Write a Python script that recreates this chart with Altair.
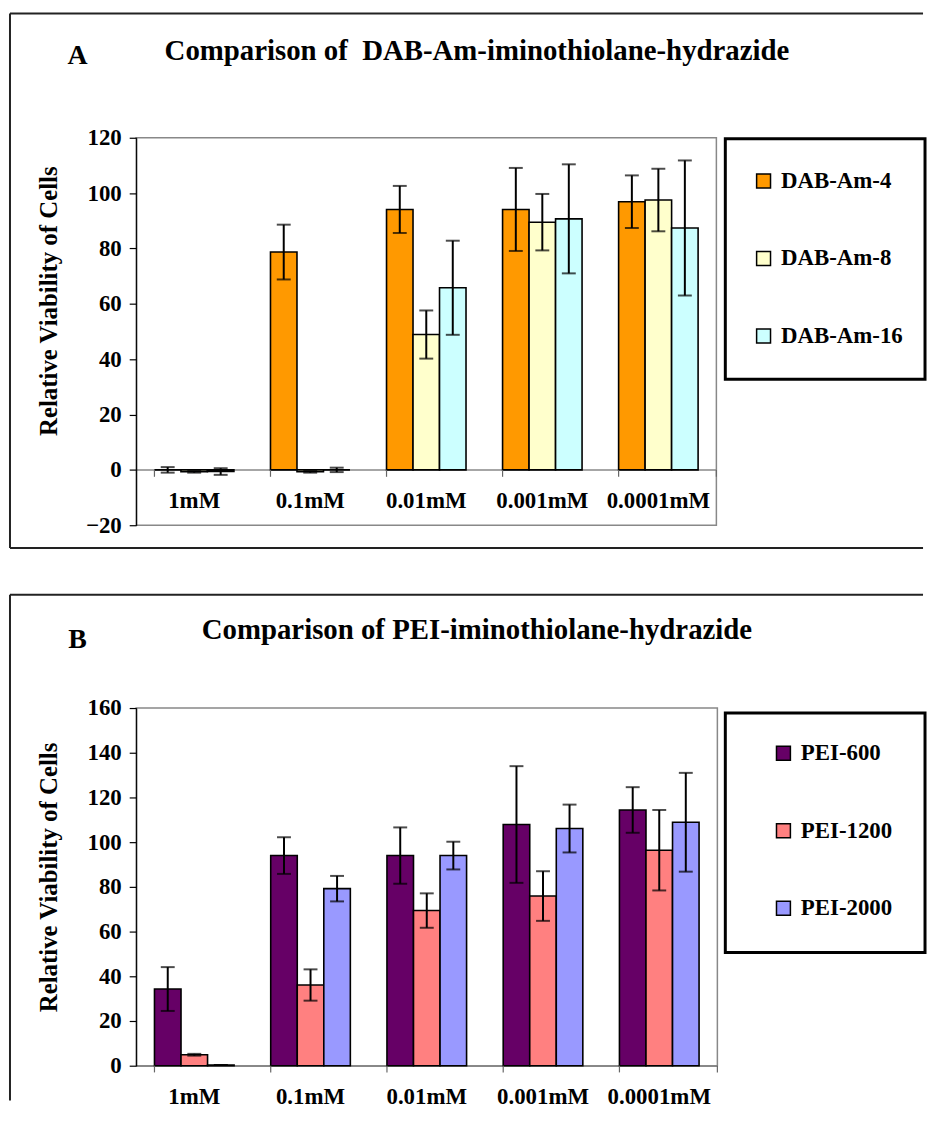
import altair as alt
import pandas as pd

FONT = "Liberation Serif"

conc = ["1mM", "0.1mM", "0.01mM", "0.001mM", "0.0001mM"]

dab_series = ["DAB-Am-4", "DAB-Am-8", "DAB-Am-16"]
dab_colors = ["#FF9900", "#FFFFCC", "#CCFFFF"]
dab4 = [0.0, 78.7, 94.1, 94.1, 96.9]
dab4_err = [1.0, 9.9, 8.5, 15.0, 9.5]
dab8 = [-0.7, -0.7, 48.9, 89.5, 97.5]
dab8_err = [0.3, 0.3, 8.7, 10.2, 11.3]
dab16 = [-0.6, 0.0, 65.8, 90.7, 87.4]
dab16_err = [1.2, 0.8, 17.0, 19.7, 24.4]

pei_series = ["PEI-600", "PEI-1200", "PEI-2000"]
pei_colors = ["#660066", "#FF8080", "#9999FF"]
pei600 = [34.3, 94.0, 94.0, 107.9, 114.4]
pei600_err = [9.8, 8.2, 12.6, 26.1, 10.2]
pei1200 = [4.9, 36.1, 69.4, 75.9, 96.4]
pei1200_err = [0.4, 7.0, 7.7, 11.1, 18.0]
pei2000 = [0.3, 79.2, 94.0, 106.1, 108.9]
pei2000_err = [0.0, 5.7, 6.2, 10.7, 22.1]

ytitle = "Relative Viability of Cells"
titleA = "Comparison of\u00a0 DAB-Am-iminothiolane-hydrazide"
titleB = "Comparison of PEI-iminothiolane-hydrazide"


def make_df(series, values, errors):
    rows = []
    for s, vals, errs in zip(series, values, errors):
        for c, v, e in zip(conc, vals, errs):
            rows.append({"conc": c, "series": s, "value": v, "lo": v - e, "hi": v + e})
    return pd.DataFrame(rows)


def panel(df, series, colors, domain, ticks, W, H, xoffset, tick_len, letter, title,
          frame, legend_box, legend_xy, title_xy, letter_xy, ytitle_xy):
    xaxis = alt.Axis(title=None, labelAngle=0, ticks=False, domainColor="#888888",
                     domainWidth=1.5, labelFont=FONT, labelFontSize=23,
                     labelFontWeight="bold", labelColor="black", labelPadding=20,
                     offset=xoffset)
    xscale = alt.Scale(paddingInner=0.315, paddingOuter=0.1575)
    yaxis = alt.Axis(values=ticks, title=ytitle, grid=False, domainColor="black",
                     domainWidth=1.2, tickColor="black", tickSize=7, tickWidth=1.2,
                     labelFont=FONT, labelFontSize=23, labelFontWeight="bold",
                     labelColor="black", labelPadding=8, titleFont=FONT,
                     titleFontSize=25, titleFontWeight="bold", titleColor="black",
                     titleX=ytitle_xy[0], titleY=ytitle_xy[1], titleBaseline="middle",
                     titleAngle=270)
    yscale = alt.Scale(domain=domain, nice=False, zero=False)

    def X(**kw):
        return alt.X("conc:N", sort=conc, scale=xscale, axis=xaxis, **kw)

    def Y(field):
        return alt.Y(field, type="quantitative", scale=yscale, axis=yaxis)

    xo = alt.XOffset("series:N", sort=series,
                     scale=alt.Scale(paddingInner=0, paddingOuter=0))
    color = alt.Color("series:N", sort=series,
                      scale=alt.Scale(domain=series, range=colors),
                      legend=alt.Legend(title=None, orient="none",
                                        legendX=legend_xy[0], legendY=legend_xy[1]))

    one = pd.DataFrame({"k": [0]})
    base = alt.Chart(df)

    # decorative chart-area border and legend box
    fl, ft, fb, fr = frame
    layers = [
        alt.Chart(one).mark_rule(color="#222", strokeWidth=2).encode(
            x=alt.value(fl), x2=alt.value(fr), y=alt.value(ft)),
        alt.Chart(one).mark_rule(color="#222", strokeWidth=2).encode(
            x=alt.value(fl), y=alt.value(ft), y2=alt.value(fb)),
    ]
    if letter == "A":
        layers.append(alt.Chart(one).mark_rule(color="#222", strokeWidth=2).encode(
            x=alt.value(fl), x2=alt.value(fr), y=alt.value(fb)))
    lx0, ly0, lx1, ly1 = legend_box
    layers.append(alt.Chart(one).mark_rect(fill="white", stroke="black",
                                           strokeWidth=3).encode(
        x=alt.value(lx0), x2=alt.value(lx1), y=alt.value(ly0), y2=alt.value(ly1)))

    bars = base.mark_bar(stroke="black", strokeWidth=1.6).encode(
        x=X(), xOffset=xo, y=Y("value"), color=color)
    err = base.mark_rule(color="black", strokeWidth=2).encode(
        x=X(), xOffset=xo, y=Y("lo"), y2="hi:Q")
    cap_lo = base.mark_tick(color="black", thickness=2, size=14).encode(
        x=X(), xOffset=xo, y=Y("lo"))
    cap_hi = base.mark_tick(color="black", thickness=2, size=14).encode(
        x=X(), xOffset=xo, y=Y("hi"))
    cats = alt.Chart(pd.DataFrame({"conc": conc})).mark_rule(
        color="#666", strokeWidth=1.2).encode(
        x=X(bandPosition=0), y=alt.Y(datum=0, scale=yscale, axis=yaxis),
        y2=alt.Y2(datum=-tick_len))
    end_tick = alt.Chart(one).mark_rule(color="#666", strokeWidth=1.2).encode(
        x=alt.value(W), y=alt.Y(datum=0, scale=yscale, axis=yaxis),
        y2=alt.Y2(datum=-tick_len))
    ttl = alt.Chart(one).mark_text(text=title, font=FONT, fontSize=29,
                                   fontWeight="bold", align="center",
                                   baseline="middle", color="black").encode(
        x=alt.value(title_xy[0]), y=alt.value(title_xy[1]))
    let = alt.Chart(one).mark_text(text=letter, font=FONT, fontSize=28,
                                   fontWeight="bold", align="center",
                                   baseline="middle", color="black").encode(
        x=alt.value(letter_xy[0]), y=alt.value(letter_xy[1]))
    layers += [bars, err, cap_lo, cap_hi, cats, end_tick, ttl, let]
    return alt.layer(*layers).properties(width=W, height=H)


dfA = make_df(dab_series, [dab4, dab8, dab16], [dab4_err, dab8_err, dab16_err])
dfB = make_df(pei_series, [pei600, pei1200, pei2000],
              [pei600_err, pei1200_err, pei2000_err])

chartA = panel(dfA, dab_series, dab_colors, [-20, 120], list(range(-20, 121, 20)),
               584, 390, -56, 2.5, "A", titleA,
               frame=(-127, -125, 413, 792), legend_box=(593, 1, 794, 243),
               legend_xy=(620, 32), title_xy=(343, -87), letter_xy=(-59, -82),
               ytitle_xy=(-88, 164))
chartB = panel(dfB, pei_series, pei_colors, [0, 160], list(range(0, 161, 20)),
               585, 360, 0, 3.0, "B", titleB,
               frame=(-127, -114, 395, 792), legend_box=(593, 5, 794, 246),
               legend_xy=(640, 34), title_xy=(343, -78), letter_xy=(-59, -68),
               ytitle_xy=(-88, 170))

chart = alt.vconcat(chartA, chartB, spacing=43).resolve_scale(
    color="independent", x="independent", y="independent", xOffset="independent"
).configure_view(stroke="#888888", strokeWidth=1.5).configure_legend(
    labelFont=FONT, labelFontSize=23, labelFontWeight="bold", labelColor="black",
    symbolType="square", symbolSize=196, symbolStrokeColor="black",
    symbolStrokeWidth=1.5, symbolOpacity=1, rowPadding=54, padding=0, labelOffset=6
).properties(padding=0)

chart.save("out.html", embed_options={"renderer": "svg", "actions": False})
